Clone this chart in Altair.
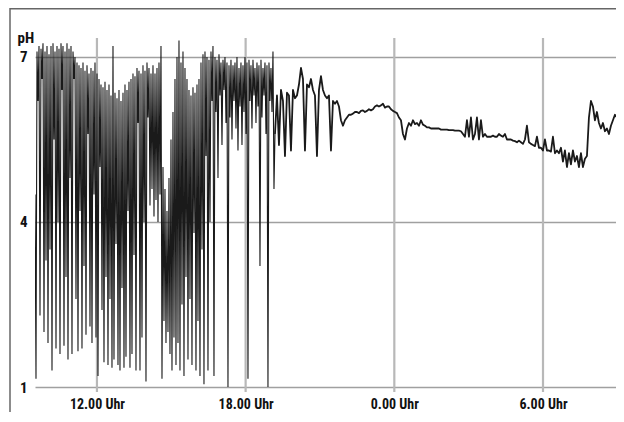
import altair as alt
import pandas as pd

# ---- data ----
# time axis in hours since midnight of day 1 (24 = 0.00 Uhr next day)
t_start = 9.5
t_step = 0.0807  # sampling interval (h)

# dense part (≈9.30 - 19.10 Uhr): per sampling step an upper and a lower reading
dense_hi = [
    4.5, 7.1, 7.2, 7.15, 7.25, 7.1, 7.2, 7.05, 7.2, 7.25,
    7.1, 7.2, 7.15, 7.25, 7.2, 7.1, 7.25, 7.15, 7.2, 7.1,
    7.0, 6.9, 6.85, 6.8, 6.9, 6.75, 6.85, 6.7, 6.8, 6.75,
    6.9, 6.7, 6.6, 6.5, 6.45, 6.55, 6.4, 6.5, 6.3, 7.2,
    6.35, 6.25, 6.4, 6.2, 6.35, 6.5, 6.4, 6.55, 6.6, 6.7,
    6.65, 6.8, 6.75, 6.7, 6.85, 6.75, 6.9, 6.8, 6.7, 6.85,
    6.7, 6.8, 6.9, 7.2, 5.0, 4.6, 4.2, 4.8, 5.5, 6.0,
    6.6, 7.0, 7.3, 6.9, 7.1, 6.8, 6.6, 6.4, 6.3, 6.45,
    6.35, 6.5, 6.6, 6.9, 7.05, 7.1, 7.0, 6.95, 7.1, 7.2,
    7.0, 6.95, 7.05, 6.9, 6.95, 7.0, 6.9, 6.85, 6.95, 6.85,
    6.9, 7.0, 6.8, 6.9, 6.85, 7.0, 6.9, 6.95, 6.85, 6.95,
    6.8, 6.9, 6.85, 6.95, 6.8, 6.9, 6.85, 6.9, 6.8, 7.1,
]
dense_lo = [
    1.15, 6.2, 2.3, 6.6, 2.0, 3.3, 1.8, 3.5, 1.3, 5.5,
    1.7, 4.0, 1.6, 6.4, 1.75, 3.0, 1.5, 4.8, 1.6, 6.6,
    2.6, 1.65, 4.2, 1.7, 3.2, 1.95, 5.6, 2.1, 1.8, 4.5,
    1.9, 1.2, 5.0, 2.4, 1.45, 3.0, 1.4, 2.6, 1.35, 1.5,
    3.6, 1.4, 1.3, 2.8, 1.35, 1.55, 4.2, 1.35, 1.6, 3.4,
    1.3, 5.8, 1.3, 1.9, 4.0, 1.1, 5.9, 4.3, 4.6, 4.1,
    4.4, 4.0, 4.5, 1.15, 2.2, 1.8, 2.0, 1.6, 1.3, 1.9,
    1.4, 1.8, 1.3, 2.5, 1.2, 3.0, 1.5, 2.6, 1.4, 3.8,
    1.3, 2.2, 1.2, 3.5, 1.05, 5.2, 1.3, 4.0, 6.2, 1.2,
    6.0, 4.8, 6.3, 5.4, 6.4, 5.8, 1.0, 5.9, 5.5, 6.2,
    5.7, 5.3, 6.1, 5.4, 6.0, 5.6, 1.15, 6.2, 5.7, 6.3,
    5.8, 6.1, 3.2, 5.9, 6.3, 5.6, 1.0, 6.2, 6.0, 4.6,
]

# calmer part (≈19.20 - 9.15 Uhr next day), one reading per sampling step
calm = [
    5.6, 6.3, 5.4, 6.4, 6.2, 5.2, 6.35, 6.3, 5.3, 6.4,
    6.25, 6.3, 6.5, 6.8, 6.6, 5.3, 6.5, 6.45, 6.6, 6.4,
    6.3, 5.2, 6.4, 6.65, 6.4, 6.3, 6.25, 6.3, 5.3, 6.2,
    6.15, 6.2, 6.1, 5.85, 5.75, 5.85, 5.9, 5.95, 5.95, 5.97,
    6.0, 6.0, 5.98, 6.02, 6.03, 6.0, 6.02, 6.05, 6.03, 6.05,
    6.1, 6.12, 6.1, 6.12, 6.15, 6.08, 6.1, 6.1, 6.05, 6.02,
    6.0, 5.98, 5.9, 5.85, 5.6, 5.5, 5.7, 5.8, 5.75, 5.85,
    5.78, 5.8, 5.75, 5.85, 5.77, 5.75, 5.72, 5.72, 5.7, 5.7,
    5.7, 5.7, 5.7, 5.68, 5.68, 5.68, 5.68, 5.67, 5.67, 5.67,
    5.66, 5.66, 5.66, 5.65, 5.6, 5.55, 5.85, 5.55, 5.9, 5.5,
    5.6, 5.9, 5.5, 5.85, 5.55, 5.6, 5.55, 5.55, 5.55, 5.57,
    5.55, 5.55, 5.6, 5.57, 5.55, 5.6, 5.5, 5.5, 5.5, 5.48,
    5.47, 5.45, 5.48, 5.45, 5.42, 5.5, 5.75, 5.45, 5.42, 5.4,
    5.38, 5.55, 5.35, 5.35, 5.3, 5.5, 5.3, 5.3, 5.28, 5.55,
    5.25, 5.3, 5.25, 5.35, 5.1, 5.3, 5.0, 5.25, 5.05, 5.3,
    5.1, 5.2, 5.0, 5.25, 5.0, 5.15, 5.2, 5.9, 6.2, 6.1,
    5.85, 6.0, 5.8, 5.7, 5.8, 5.65, 5.7, 5.6, 5.75, 5.85,
    5.95, 5.9, 6.0, 6.1, 6.3,
]

x_ticks = [12, 18, 24, 30]
y_ticks = [1, 4, 7]
x_domain = [9.5, 32.946]
y_domain = [0.8, 7.4909]

# ---- build tables ----
dense_rows = []
for i, (h, l) in enumerate(zip(dense_hi, dense_lo)):
    t = t_start + i * t_step
    dense_rows.append({"t": t, "ph": h})
    dense_rows.append({"t": t + t_step / 2, "ph": l})
n0 = len(dense_hi)
calm_rows = [{"t": t_start + (n0 + j) * t_step, "ph": v} for j, v in enumerate(calm)]
df_dense = pd.DataFrame(dense_rows + calm_rows[:1])
df_calm = pd.DataFrame(calm_rows)

FONT = "Liberation Sans Narrow, Roboto Condensed, DejaVu Sans Condensed, Liberation Sans, sans-serif"

W, H = 581, 368

xs = alt.Scale(domain=x_domain, nice=False, zero=False)
ys = alt.Scale(domain=y_domain, nice=False, zero=False)

x_axis = alt.Axis(
    values=x_ticks,
    labelExpr="(datum.value % 24) + '.00 Uhr'",
    title=None,
    grid=False,
    domain=False,
    ticks=False,
    labelFont=FONT,
    labelFontSize=14,
    labelFontWeight="bold",
    labelColor="#111111",
    labelBaseline="alphabetic",
    labelPadding=10,
)
y_axis = alt.Axis(
    values=y_ticks,
    format="d",
    title="pH",
    titleAngle=0,
    titleAlign="left",
    titleBaseline="alphabetic",
    titleX=-18,
    titleY=12,
    titleFont=FONT,
    titleFontSize=15,
    titleFontWeight="bold",
    titleColor="#111111",
    grid=True,
    gridColor="#a0a0a0",
    gridWidth=1.6,
    domain=False,
    ticks=False,
    labelFont=FONT,
    labelFontSize=15,
    labelFontWeight="bold",
    labelColor="#111111",
    labelPadding=8,
)

vgrid = alt.Chart(pd.DataFrame({"t": x_ticks, "y1": [7.345] * 4, "y2": [0.909] * 4})).mark_rule(
    color="#b8b8b8", strokeWidth=2.2
).encode(
    x=alt.X("t:Q", scale=xs, axis=x_axis),
    y=alt.Y("y1:Q", scale=ys, axis=y_axis),
    y2="y2:Q",
)

dense_line = alt.Chart(df_dense).mark_line(color="#1a1a1a", strokeWidth=1.1, clip=True).encode(
    x=alt.X("t:Q", scale=xs),
    y=alt.Y("ph:Q", scale=ys),
)
calm_line = alt.Chart(df_calm).mark_line(
    color="#1a1a1a", strokeWidth=1.8, strokeJoin="round", clip=True
).encode(
    x=alt.X("t:Q", scale=xs),
    y=alt.Y("ph:Q", scale=ys),
)

frame_top = alt.Chart(pd.DataFrame({"a": [0]})).mark_rule(color="#666666", strokeWidth=1.5).encode(
    x=alt.value(-25), x2=alt.value(W), y=alt.value(-21.2)
)
frame_left = alt.Chart(pd.DataFrame({"a": [0]})).mark_rule(color="#666666", strokeWidth=1.5).encode(
    x=alt.value(-25), y=alt.value(-22), y2=alt.value(H + 14)
)

chart = alt.layer(vgrid, dense_line, calm_line, frame_top, frame_left).properties(
    width=W,
    height=H,
    autosize=alt.AutoSizeParams(type="none"),
    padding={"left": 27, "top": 22, "right": 0, "bottom": 14},
    background="white",
).configure_view(stroke=None)

chart.save("out.html", embed_options={"renderer": "svg", "actions": False})
